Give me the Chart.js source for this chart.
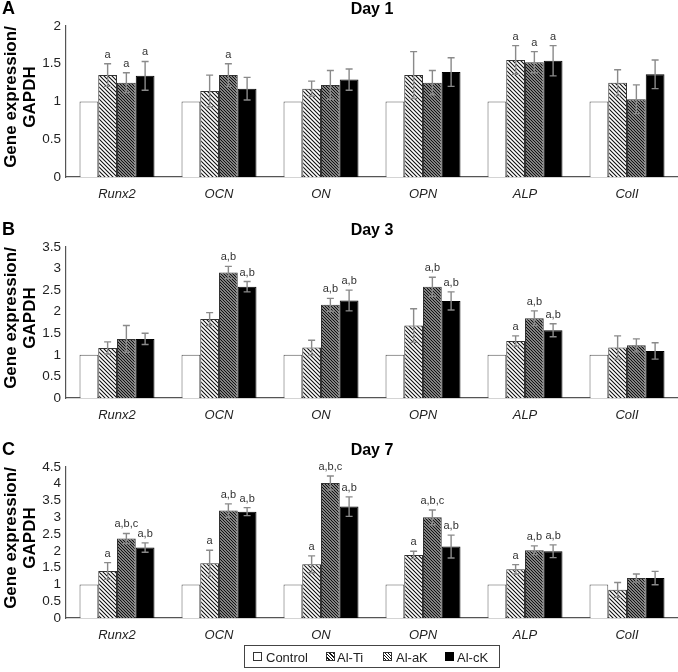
<!DOCTYPE html>
<html>
<head>
<meta charset="utf-8">
<script src="https://cdn.jsdelivr.net/npm/chart.js@4.4.1/dist/chart.umd.min.js"></script>
<style>
  html, body { margin: 0; padding: 0; background: #fff; }
  body { width: 678px; height: 672px; position: relative; overflow: hidden; font-family: "Liberation Sans", Arial, sans-serif; }
  canvas.panel { position: absolute; left: 0; }
  #legend { position: absolute; left: 244px; top: 645px; width: 256px; height: 23px; border: 1px solid #444; box-sizing: border-box; }
  .li { position: absolute; top: 0; height: 23px; line-height: 23px; font-size: 13px; color: #222; }
  .ic { position: absolute; top: 6px; width: 9px; height: 9px; box-sizing: border-box; border: 1px solid #333; }
</style>
</head>
<body>
<canvas id="cA" class="panel" width="678" height="205" style="top:0px"></canvas>
<canvas id="cB" class="panel" width="678" height="205" style="top:221px"></canvas>
<canvas id="cC" class="panel" width="678" height="205" style="top:441px"></canvas>
<div id="legend"></div>
<script>
// ---------- data ----------
const categories = ['Runx2', 'OCN', 'ON', 'OPN', 'ALP', 'ColI'];
const seriesNames = ['Control', 'Al-Ti', 'Al-aK', 'Al-cK'];

// Day 1
const control1 = [1, 1, 1, 1, 1, 1];
const alTi1 = [1.35, 1.14, 1.17, 1.35, 1.55, 1.25];
const alTi1Err = [0.15, 0.21, 0.10, 0.31, 0.19, 0.17];
const alaK1 = [1.25, 1.35, 1.22, 1.25, 1.52, 1.03];
const alaK1Err = [0.13, 0.15, 0.19, 0.16, 0.14, 0.19];
const alcK1 = [1.34, 1.17, 1.29, 1.39, 1.54, 1.36];
const alcK1Err = [0.19, 0.15, 0.14, 0.19, 0.20, 0.19];
const sigTi1 = ['a', '', '', '', 'a', ''];
const sigaK1 = ['a', 'a', '', '', 'a', ''];
const sigcK1 = ['a', '', '', '', 'a', ''];
const yTicks1 = [0, 0.5, 1, 1.5, 2];

// Day 3
const control3 = [1, 1, 1, 1, 1, 1];
const alTi3 = [1.16, 1.83, 1.17, 1.68, 1.32, 1.17];
const alTi3Err = [0.14, 0.15, 0.17, 0.39, 0.12, 0.27];
const alaK3 = [1.37, 2.91, 2.16, 2.58, 1.85, 1.22];
const alaK3Err = [0.31, 0.14, 0.15, 0.22, 0.17, 0.15];
const alcK3 = [1.37, 2.58, 2.26, 2.25, 1.57, 1.09];
const alcK3Err = [0.13, 0.12, 0.24, 0.21, 0.15, 0.19];
const sigTi3 = ['', '', '', '', 'a', ''];
const sigaK3 = ['', 'a,b', 'a,b', 'a,b', 'a,b', ''];
const sigcK3 = ['', 'a,b', 'a,b', 'a,b', 'a,b', ''];
const yTicks3 = [0, 0.5, 1, 1.5, 2, 2.5, 3, 3.5];

// Day 7
const control7 = [1, 1, 1, 1, 1, 1];
const alTi7 = [1.40, 1.63, 1.60, 1.88, 1.45, 0.84];
const alTi7Err = [0.25, 0.39, 0.25, 0.11, 0.14, 0.22];
const alaK7 = [2.37, 3.20, 4.02, 3.00, 2.02, 1.19];
const alaK7Err = [0.15, 0.20, 0.21, 0.22, 0.13, 0.12];
const alcK7 = [2.10, 3.17, 3.32, 2.13, 1.99, 1.19];
const alcK7Err = [0.14, 0.12, 0.29, 0.34, 0.19, 0.20];
const sigTi7 = ['a', 'a', 'a', 'a', 'a', ''];
const sigaK7 = ['a,b,c', 'a,b', 'a,b,c', 'a,b,c', 'a,b', ''];
const sigcK7 = ['a,b', 'a,b', 'a,b', 'a,b', 'a,b', ''];
const yTicks7 = [0, 0.5, 1, 1.5, 2, 2.5, 3, 3.5, 4, 4.5];

// ---------- styles ----------
const FONT = '"Liberation Sans", Arial, sans-serif';

function makeHatch(size, lw, bg, fg) {
  const c = document.createElement('canvas');
  c.width = size; c.height = size;
  const x = c.getContext('2d');
  x.fillStyle = bg; x.fillRect(0, 0, size, size);
  x.strokeStyle = fg; x.lineWidth = lw;
  x.beginPath();
  x.moveTo(-1, -1); x.lineTo(size + 1, size + 1);
  x.moveTo(-1, size - 1); x.lineTo(1, size + 1);
  x.moveTo(size - 1, -1); x.lineTo(size + 1, 1);
  x.stroke();
  return x.createPattern(c, 'repeat');
}
const patTi = makeHatch(4, 1.1, '#ffffff', '#111111');
const pataK = makeHatch(3, 1.5, '#ffffff', '#111111');

const fills = ['#ffffff', patTi, pataK, '#000000'];
const borders = ['#555555', '#333333', '#333333', '#000000'];

// ---------- plugin: error bars, significance letters, titles ----------
const decorPlugin = {
  id: 'decor',
  afterDatasetsDraw(chart) {
    const ctx = chart.ctx;
    const ys = chart.scales.y;
    const extra = chart.options.plugins.decor;
    chart.data.datasets.forEach((ds, di) => {
      const meta = chart.getDatasetMeta(di);
      const errs = ds.errors || [];
      const sig = ds.sig || [];
      meta.data.forEach((bar, i) => {
        const v = ds.data[i];
        const e = errs[i] || 0;
        const x = bar.x;
        let topPx = ys.getPixelForValue(v);
        if (e > 0) {
          const yT = ys.getPixelForValue(v + e);
          const yB = ys.getPixelForValue(v - e);
          topPx = yT;
          ctx.save();
          ctx.strokeStyle = '#8a8a8a';
          ctx.lineWidth = 1.4;
          ctx.beginPath();
          ctx.moveTo(x, yT); ctx.lineTo(x, yB);
          ctx.moveTo(x - 3.5, yT); ctx.lineTo(x + 3.5, yT);
          ctx.moveTo(x - 3.5, yB); ctx.lineTo(x + 3.5, yB);
          ctx.stroke();
          ctx.restore();
        }
        if (sig[i]) {
          ctx.save();
          ctx.fillStyle = '#333';
          ctx.font = '11px ' + FONT;
          ctx.textAlign = 'center';
          ctx.textBaseline = 'alphabetic';
          ctx.fillText(sig[i], x, topPx - 6);
          ctx.restore();
        }
      });
    });
    // panel letter, day title, y-axis title
    const ca = chart.chartArea;
    ctx.save();
    ctx.fillStyle = '#000';
    ctx.textBaseline = 'middle';
    ctx.font = 'bold 18px ' + FONT;
    ctx.textAlign = 'left';
    ctx.fillText(extra.letter, 2, 9);
    ctx.font = 'bold 16px ' + FONT;
    ctx.textAlign = 'center';
    ctx.fillText(extra.title, (ca.left + ca.right) / 2, 10);
    ctx.translate(0, 97);
    ctx.rotate(-Math.PI / 2);
    ctx.font = 'bold 17px ' + FONT;
    ctx.fillText('Gene expression/', 0, 11);
    ctx.fillText('GAPDH', 0, 30);
    ctx.restore();
  }
};

function makeChart(id, letter, title, vals, errs, sigs, ticks) {
  const datasets = vals.map((d, k) => ({
    label: seriesNames[k],
    data: d,
    errors: errs[k],
    sig: sigs[k],
    backgroundColor: fills[k],
    borderColor: borders[k],
    borderWidth: 1,
    borderSkipped: 'bottom',
    categoryPercentage: 0.735,
    barPercentage: 1.0
  }));
  return new Chart(document.getElementById(id), {
    type: 'bar',
    data: { labels: categories, datasets },
    plugins: [decorPlugin],
    options: {
      responsive: false,
      animation: false,
      devicePixelRatio: 1,
      layout: { padding: { left: 0, right: 0, top: 26, bottom: 0 } },
      plugins: {
        legend: { display: false },
        tooltip: { enabled: false },
        title: { display: false },
        decor: { letter, title }
      },
      scales: {
        x: {
          grid: { display: false },
          border: { display: true, color: '#555', width: 1.2 },
          ticks: { color: '#222', font: { family: FONT, size: 13, style: 'italic' }, padding: 2, maxRotation: 0 },
          afterFit(s) { s.height = 28; }
        },
        y: {
          min: ticks[0],
          max: ticks[ticks.length - 1],
          afterBuildTicks(s) { s.ticks = ticks.map(v => ({ value: v })); },
          grid: { display: false, drawTicks: false },
          border: { display: true, color: '#555', width: 1.2 },
          ticks: {
            color: '#222',
            font: { family: FONT, size: 13.5 },
            padding: 5,
            autoSkip: false,
            callback: (v) => String(v)
          },
          afterFit(s) { s.width = 66; }
        }
      }
    }
  });
}

makeChart('cA', 'A', 'Day 1',
  [control1, alTi1, alaK1, alcK1],
  [null, alTi1Err, alaK1Err, alcK1Err],
  [null, sigTi1, sigaK1, sigcK1], yTicks1);
makeChart('cB', 'B', 'Day 3',
  [control3, alTi3, alaK3, alcK3],
  [null, alTi3Err, alaK3Err, alcK3Err],
  [null, sigTi3, sigaK3, sigcK3], yTicks3);
makeChart('cC', 'C', 'Day 7',
  [control7, alTi7, alaK7, alcK7],
  [null, alTi7Err, alaK7Err, alcK7Err],
  [null, sigTi7, sigaK7, sigcK7], yTicks7);

// ---------- legend ----------
const legend = document.getElementById('legend');
const legendIcon = [
  'background:#fff;border-color:#333;',
  'background:repeating-linear-gradient(45deg,#fff 0 1.4px,#111 1.4px 2.4px);border-color:#333;',
  'background:repeating-linear-gradient(45deg,#fff 0 0.9px,#111 0.9px 2.1px);border-color:#333;',
  'background:#000;border-color:#000;'
];
const iconX = [8, 81, 138, 200];
const textX = [21, 92, 151, 212];
seriesNames.forEach((n, k) => {
  const ic = document.createElement('div');
  ic.className = 'ic';
  ic.style.cssText = 'left:' + iconX[k] + 'px;' + legendIcon[k];
  legend.appendChild(ic);
  const t = document.createElement('div');
  t.className = 'li';
  t.style.left = textX[k] + 'px';
  t.textContent = n;
  legend.appendChild(t);
});
</script>
</body>
</html>
